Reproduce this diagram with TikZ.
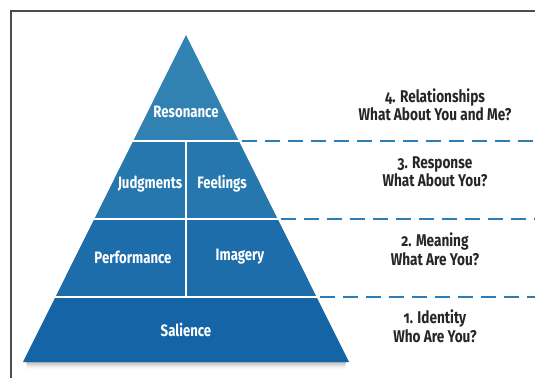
\documentclass[tikz,border=0pt]{standalone}
\usepackage{fontspec}
\setmainfont{Fira Sans}[UprightFont=* Bold, BoldFont=* Bold, Numbers=OldStyle, FakeStretch=0.8]
\begin{document}
\begin{tikzpicture}[x=1pt,y=1pt,
  tierA/.style={fill=blue1},
  tierB/.style={fill=blue2},
  tierC/.style={fill=blue3},
  tierD/.style={fill=blue4},
  sep/.style={draw=white,line width=2.2pt},
  lvl/.style={draw=dashblue,line width=2.8pt,dash pattern=on 15pt off 8pt},
  inlabel/.style={text=white,font=\fontsize{16.5}{19}\selectfont,inner sep=0pt},
  sidelabel/.style={text=black!85,font=\fontsize{17}{18.5}\selectfont,align=center,inner sep=0pt},
  frame/.style={draw=black!70,line width=1.5pt}]
\definecolor{blue1}{HTML}{3281B3}
\definecolor{blue2}{HTML}{2577AE}
\definecolor{blue3}{HTML}{1D6DAA}
\definecolor{blue4}{HTML}{1565A6}
\definecolor{dashblue}{HTML}{2D7DB6}
\useasboundingbox (0,0) rectangle (535,378);
\fill[white] (0,0) rectangle (535,378);

% pyramid corners, tier by tier (apex 186,343; base half-width 163)
\coordinate (apex) at (186,343);
\coordinate (l1) at (133.2,237); \coordinate (r1) at (238.8,237);
\coordinate (l2) at (94.3,159);  \coordinate (r2) at (277.7,159);
\coordinate (l3) at (55.4,81);   \coordinate (r3) at (316.6,81);
\coordinate (l4) at (23,16);     \coordinate (r4) at (349,16);
\coordinate (m1) at (186,237);   \coordinate (m3) at (186,81);

% soft shadow under the base
\foreach \d/\o in {1/0.10,2.5/0.08,4/0.06,5.5/0.04,7/0.025}
  \fill[black,opacity=\o] (26,16) -- (346,16) -- (345,16-\d) -- (27,16-\d) -- cycle;

\fill[tierA] (apex) -- (r1) -- (l1) -- cycle;
\fill[tierB] (l1) -- (r1) -- (r2) -- (l2) -- cycle;
\fill[tierC] (l2) -- (r2) -- (r3) -- (l3) -- cycle;
\fill[tierD] (l3) -- (r3) -- (r4) -- (l4) -- cycle;

\draw[sep] (l1) -- (r1);
\draw[sep] (l2) -- (r2);
\draw[sep] (l3) -- (r3);
\draw[sep] (m1) -- (m3);

% level markers running to the right edge
\coordinate (e1) at (535,237);
\coordinate (e2) at (535,159);
\coordinate (e3) at (535,81);
\draw[lvl] ([xshift=3pt]r1) -- (e1);
\draw[lvl] ([xshift=3pt]r2) -- (e2);
\draw[lvl] ([xshift=3pt]r3) -- (e3);

% labels inside the pyramid
\node[inlabel] (res) at (186,266) {Resonance};
\node[inlabel] (jud) at (150,194) {Judgments};
\node[inlabel] (fee) at (222,194) {Feelings};
\node[inlabel] (per) at (133,121) {Performance};
\node[inlabel] (ima) at (240,121) {Imagery};
\node[inlabel] (sal) at (186,48)  {Salience};

% questions to the right
\node[sidelabel] (q4) at (435,273) {4. Relationships\\What About You and Me?};
\node[sidelabel] (q3) at (435,206) {3. Response\\What About You?};
\node[sidelabel] (q2) at (435,129) {2. Meaning\\What Are You?};
\node[sidelabel] (q1) at (435,52)  {1. Identity\\Who Are You?};

% frame along the top and left
\draw[frame] (11,0) |- (535,367);
\end{tikzpicture}
\end{document}
